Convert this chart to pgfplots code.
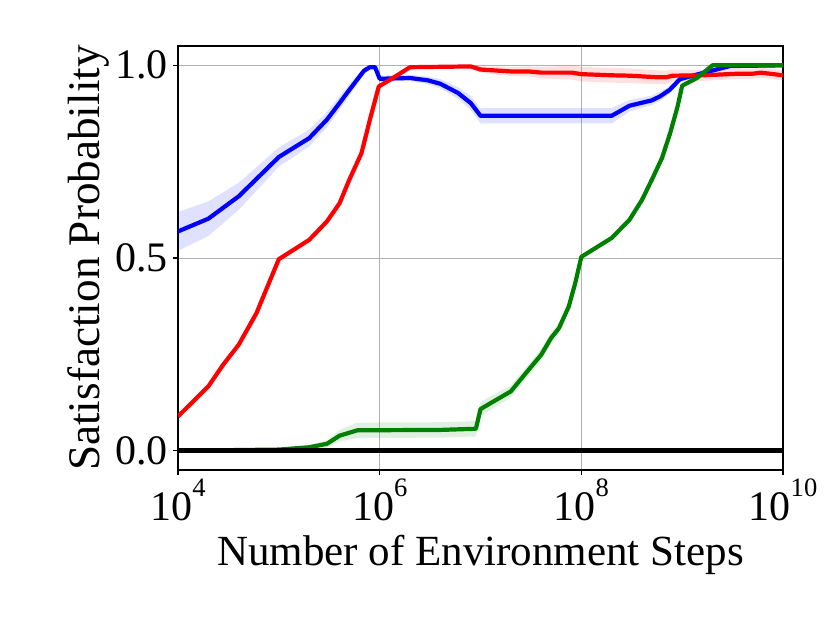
\documentclass[border=0pt]{standalone}
\usepackage{fontspec}
\setmainfont{Liberation Serif}
\usepackage{pgfplots}
\pgfplotsset{compat=1.18}
\usepackage{pgfplotstable}
\definecolor{mgreen}{rgb}{0,0.5,0}

\pgfplotstableread{
x m
1e4 0.569
2e4 0.602
4e4 0.660
1e5 0.762
2e5 0.811
3e5 0.859
4e5 0.902
5e5 0.936
7e5 0.986
8e5 0.995
9e5 0.995
1e6 0.965
2e6 0.967
3e6 0.961
4e6 0.952
6e6 0.928
8e6 0.902
1e7 0.869
2e8 0.869
3e8 0.895
5e8 0.909
6e8 0.919
7.5e8 0.936
9.5e8 0.964
1.6e9 0.980
3e9 0.998
1e10 1.000
}\tblue

\pgfplotstableread{
x m
1e4 0.089
2e4 0.167
2.8e4 0.223
4e4 0.275
6e4 0.357
1e5 0.497
2e5 0.547
3e5 0.595
4e5 0.642
5e5 0.703
6.6e5 0.772
8e5 0.859
9.8e5 0.945
1.26e6 0.962
2e6 0.995
8e6 0.997
1e7 0.989
2e7 0.984
3e7 0.984
4e7 0.981
8e7 0.981
1e8 0.977
2e8 0.974
3e8 0.973
5.6e8 0.969
7e8 0.969
8e8 0.973
1.6e9 0.974
3.5e9 0.978
5e9 0.978
6e9 0.981
1e10 0.974
}\tred

\pgfplotstableread{
x m
1e4 0.000
1e5 0.003
2e5 0.009
3e5 0.018
4e5 0.039
6e5 0.053
4e6 0.054
9e6 0.057
1e7 0.108
1.25e7 0.123
2e7 0.154
3e7 0.210
4e7 0.249
5e7 0.292
6e7 0.318
7.5e7 0.374
8.7e7 0.435
1e8 0.503
2e8 0.552
3e8 0.599
4e8 0.651
5e8 0.703
6.3e8 0.759
7.6e8 0.824
9e8 0.893
1e9 0.947
1.4e9 0.967
2e9 1.000
1e10 1.000
}\tgreen

\begin{document}
\begin{tikzpicture}
\path[use as bounding box] (-89pt,-76.5pt) rectangle (326pt,235pt);
\begin{axis}[
  at={(0,0)}, anchor=south west,
  scale only axis, width=302.5pt, height=212pt,
  xmode=log, log basis x=10,
  xmin=1e4, xmax=1e10, ymin=-0.05, ymax=1.05,
  xtick={1e4,1e6,1e8,1e10},
  xticklabels={10\raisebox{0.555em}{\fontsize{13.3}{14}\selectfont 4},
               10\raisebox{0.555em}{\fontsize{13.3}{14}\selectfont 6},
               10\raisebox{0.555em}{\fontsize{13.3}{14}\selectfont 8},
               10\raisebox{0.555em}{\fontsize{13.3}{14}\selectfont 10}},
  ytick={0,0.5,1}, yticklabels={0.0,0.5,1.0},
  xminorticks=false, yminorticks=false,
  grid=major, major grid style={color=black!30, line width=0.5pt},
  tick align=outside, major tick length=2.5pt,
  tick pos=left,
  axis line style={line width=0.6pt},
  tick style={line width=0.6pt, black},
  font=\fontsize{21}{25}\selectfont,
  xticklabel style={anchor=base, inner sep=0pt, yshift=-22.5pt},
  yticklabel style={anchor=east, inner sep=0pt, xshift=-2.5pt},
  every axis x label/.style={at={(axis description cs:0.5,0)}, anchor=base, yshift=-47.5pt, font=\fontsize{21.5}{25}\selectfont},
  every axis y label/.style={at={(axis description cs:0,0.5)}, rotate=90, anchor=base, yshift=39.5pt, font=\fontsize{22.6}{26}\selectfont},
  xlabel={Number of Environment Steps},
  ylabel={Satisfaction Probability},
]
% bands: upper edge forward, lower edge back
\addplot[fill=blue, fill opacity=0.12, draw=none] coordinates {
(1e4,0.619) (2e4,0.647) (4e4,0.695) (1e5,0.787) (2e5,0.833) (3e5,0.879) (4e5,0.920) (5e5,0.951) (7e5,0.994) (8e5,1.000) (9e5,1.000) (1e6,0.973) (2e6,0.975) (3e6,0.971) (4e6,0.964) (6e6,0.943) (8e6,0.920) (1e7,0.889) (2e8,0.889) (3e8,0.910) (5e8,0.921) (6e8,0.931) (7.5e8,0.946) (9.5e8,0.972) (1.6e9,0.985) (3e9,1.000) (1e10,1.000)
(1e10,1.000) (3e9,0.996) (1.6e9,0.975) (9.5e8,0.956) (7.5e8,0.926) (6e8,0.907) (5e8,0.897) (3e8,0.880) (2e8,0.849) (1e7,0.849) (8e6,0.884) (6e6,0.913) (4e6,0.940) (3e6,0.951) (2e6,0.959) (1e6,0.957) (9e5,0.990) (8e5,0.990) (7e5,0.978) (5e5,0.921) (4e5,0.884) (3e5,0.839) (2e5,0.789) (1e5,0.737) (4e4,0.625) (2e4,0.557) (1e4,0.519)
};
\addplot[fill=red, fill opacity=0.12, draw=none] coordinates {
(1e4,0.092) (2e4,0.170) (2.8e4,0.226) (4e4,0.278) (6e4,0.360) (1e5,0.500) (2e5,0.550) (3e5,0.598) (4e5,0.645) (5e5,0.706) (6.6e5,0.775) (8e5,0.862) (9.8e5,0.948) (1.26e6,0.965) (2e6,0.998) (8e6,1.000) (1e7,0.997) (2e7,0.996) (3e7,0.997) (4e7,0.996) (8e7,0.999) (1e8,0.996) (2e8,0.993) (3e8,0.992) (5.6e8,0.987) (7e8,0.986) (8e8,0.989) (1.6e9,0.989) (3.5e9,0.991) (5e9,0.991) (6e9,0.994) (1e10,0.987)
(1e10,0.961) (6e9,0.968) (5e9,0.965) (3.5e9,0.965) (1.6e9,0.959) (8e8,0.957) (7e8,0.952) (5.6e8,0.951) (3e8,0.954) (2e8,0.955) (1e8,0.958) (8e7,0.963) (4e7,0.966) (3e7,0.971) (2e7,0.972) (1e7,0.981) (8e6,0.994) (2e6,0.992) (1.26e6,0.959) (9.8e5,0.942) (8e5,0.856) (6.6e5,0.769) (5e5,0.700) (4e5,0.639) (3e5,0.592) (2e5,0.544) (1e5,0.494) (6e4,0.354) (4e4,0.272) (2.8e4,0.220) (2e4,0.164) (1e4,0.086)
};
\addplot[fill=mgreen, fill opacity=0.12, draw=none] coordinates {
(1e4,0) (1e5,0.005) (2e5,0.014) (3e5,0.028) (4e5,0.054) (6e5,0.073) (4e6,0.074) (9e6,0.077) (1e7,0.126) (1.25e7,0.141) (2e7,0.170) (3e7,0.225) (4e7,0.264) (5e7,0.307) (6e7,0.332) (7.5e7,0.384) (8.7e7,0.443) (1e8,0.509) (2e8,0.557) (3e8,0.604) (4e8,0.656) (5e8,0.708) (6.3e8,0.764) (7.6e8,0.829) (9e8,0.898) (1e9,0.951) (1.4e9,0.970) (2e9,1.0) (1e10,1.0)
(1e10,1.0) (2e9,1.0) (1.4e9,0.964) (1e9,0.943) (9e8,0.888) (7.6e8,0.819) (6.3e8,0.754) (5e8,0.698) (4e8,0.646) (3e8,0.594) (2e8,0.547) (1e8,0.497) (8.7e7,0.427) (7.5e7,0.364) (6e7,0.304) (5e7,0.277) (4e7,0.234) (3e7,0.195) (2e7,0.138) (1.25e7,0.105) (1e7,0.090) (9e6,0.037) (4e6,0.034) (6e5,0.033) (4e5,0.024) (3e5,0.008) (2e5,0.004) (1e5,0.001) (1e4,0)
};
% lines
\addplot[blue, line width=2.1pt, line join=round] table[x=x, y=m] {\tblue};
\addplot[red, line width=2.1pt, line join=round] table[x=x, y=m] {\tred};
\addplot[mgreen, line width=2.1pt, line join=round] table[x=x, y=m] {\tgreen};
\addplot[black, line width=2.3pt] coordinates {(1e4,0) (1e10,0)};
\end{axis}
\end{tikzpicture}
\end{document}
